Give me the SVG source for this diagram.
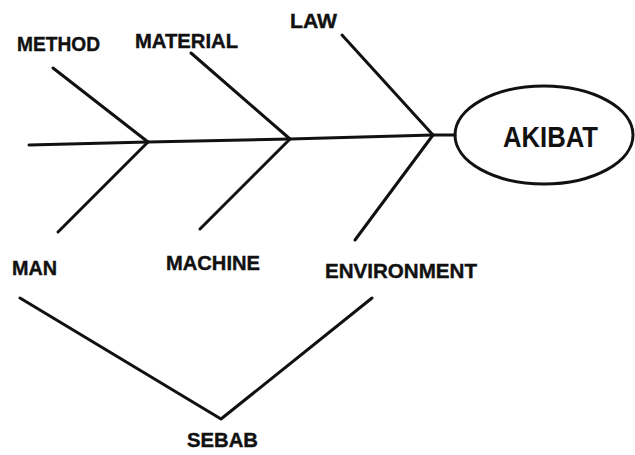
<svg xmlns="http://www.w3.org/2000/svg" width="635" height="455" viewBox="0 0 635 455">
<style>
.ln{stroke:#111;stroke-width:3;fill:none;stroke-linecap:round;stroke-linejoin:round}
.lb{font-family:"Liberation Sans",Arial,sans-serif;font-weight:bold;font-size:20px;fill:#111;stroke:#111;stroke-width:0.4}
.big{font-family:"Liberation Sans",Arial,sans-serif;font-weight:bold;font-size:30px;fill:#111}
</style>
<rect width="635" height="455" fill="#fff"/>
<g id="connectors">
<polyline class="ln" points="29,145 148,142 290,139 433,135 455,135"/>
<line class="ln" x1="53" y1="68" x2="148" y2="142"/>
<line class="ln" x1="191" y1="53" x2="290" y2="139"/>
<line class="ln" x1="342" y1="35" x2="433" y2="135"/>
<line class="ln" x1="148" y1="142" x2="58" y2="232"/>
<line class="ln" x1="290" y1="139" x2="200" y2="229"/>
<line class="ln" x1="433" y1="135" x2="355" y2="240"/>
<polyline class="ln" points="20,298 221,419 372,298"/>
</g>
<g id="akibat">
<ellipse class="ln" cx="544" cy="135" rx="89" ry="49"/>
<text class="big" x="503" y="147" textLength="95" lengthAdjust="spacingAndGlyphs">AKIBAT</text>
</g>
<g id="method"><text class="lb" x="17" y="51" textLength="83" lengthAdjust="spacingAndGlyphs">METHOD</text></g>
<g id="material"><text class="lb" x="135" y="48" textLength="103" lengthAdjust="spacingAndGlyphs">MATERIAL</text></g>
<g id="law"><text class="lb" x="290" y="28" textLength="47" lengthAdjust="spacingAndGlyphs">LAW</text></g>
<g id="man"><text class="lb" x="12" y="275" textLength="45" lengthAdjust="spacingAndGlyphs">MAN</text></g>
<g id="machine"><text class="lb" x="166" y="270" textLength="94" lengthAdjust="spacingAndGlyphs">MACHINE</text></g>
<g id="environment"><text class="lb" x="325" y="278" textLength="152" lengthAdjust="spacingAndGlyphs">ENVIRONMENT</text></g>
<g id="sebab"><text class="lb" x="187" y="447" textLength="71" lengthAdjust="spacingAndGlyphs">SEBAB</text></g>
</svg>
